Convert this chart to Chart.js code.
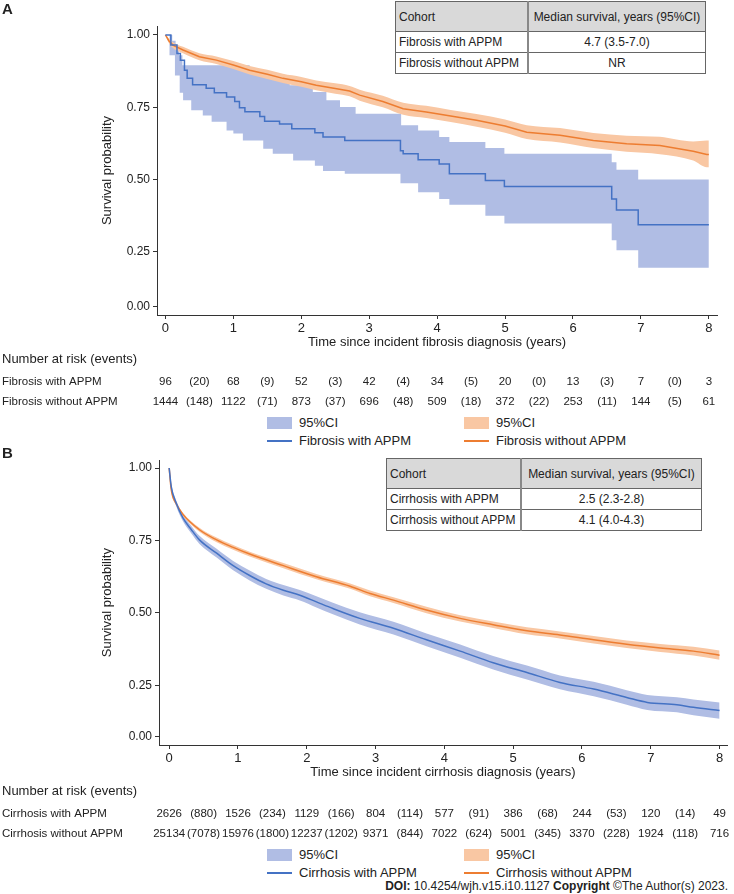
<!DOCTYPE html>
<html>
<head>
<meta charset="utf-8">
<script src="https://cdn.jsdelivr.net/npm/chart.js@4.4.1/dist/chart.umd.min.js"></script>
<style>
  body { margin: 0; width: 734px; height: 894px; position: relative; background: #fff; overflow: hidden;
         font-family: "Liberation Sans", Arial, sans-serif; color: #222; }
  canvas { position: absolute; left: 0; }
  .tag { position: absolute; left: 2px; font-weight: bold; font-size: 15px; }
  table.med { position: absolute; border-collapse: collapse; background: #fff; z-index: 2; font-size: 12px; color: #222; }
  table.med td { border: 1px solid #666; padding: 0 3px; height: 20px; text-align: center; white-space: nowrap; }
  table.med td.l { text-align: left; border-right: 2px solid #888; }
  table.med tr.hd td { background: #d9d9d9; height: 29px; }
  .key { position: absolute; font-size: 13px; white-space: nowrap; line-height: 16px; }
  .sw { position: absolute; width: 25px; }
  .doi { position: absolute; right: 6px; top: 879px; font-size: 12px; white-space: nowrap; }
</style>
</head>
<body>

<canvas id="chartA" width="734" height="412" style="top:0"></canvas>
<canvas id="chartB" width="734" height="392" style="top:450px"></canvas>

<div class="tag" style="top:0">A</div>
<div class="tag" style="top:444px">B</div>

<table class="med" style="left:395px;top:1px;width:311px">
  <tr class="hd"><td class="l" style="width:125px">Cohort</td><td>Median survival, years (95%CI)</td></tr>
  <tr><td class="l">Fibrosis with APPM</td><td>4.7 (3.5-7.0)</td></tr>
  <tr><td class="l">Fibrosis without APPM</td><td>NR</td></tr>
</table>

<table class="med" style="left:386px;top:458px;width:316px">
  <tr class="hd"><td class="l" style="width:127px">Cohort</td><td>Median survival, years (95%CI)</td></tr>
  <tr><td class="l">Cirrhosis with APPM</td><td>2.5 (2.3-2.8)</td></tr>
  <tr><td class="l">Cirrhosis without APPM</td><td>4.1 (4.0-4.3)</td></tr>
</table>

<!-- legend A -->
<div class="sw" style="left:267px;top:417px;height:12px;background:#b0bde4"></div>
<div class="key" style="left:299px;top:415px">95%CI</div>
<div class="sw" style="left:464px;top:417px;height:12px;background:#f9c7a3"></div>
<div class="key" style="left:496px;top:415px">95%CI</div>
<div class="sw" style="left:267px;top:440px;height:2px;background:#4472c4"></div>
<div class="key" style="left:299px;top:433px">Fibrosis with APPM</div>
<div class="sw" style="left:464px;top:440px;height:2px;background:#ed7d31"></div>
<div class="key" style="left:496px;top:433px">Fibrosis without APPM</div>

<!-- legend B -->
<div class="sw" style="left:267px;top:849px;height:12px;background:#b0bde4"></div>
<div class="key" style="left:299px;top:847px">95%CI</div>
<div class="sw" style="left:464px;top:849px;height:12px;background:#f9c7a3"></div>
<div class="key" style="left:496px;top:847px">95%CI</div>
<div class="sw" style="left:267px;top:872px;height:2px;background:#4472c4"></div>
<div class="key" style="left:299px;top:865px">Cirrhosis with APPM</div>
<div class="sw" style="left:464px;top:872px;height:2px;background:#ed7d31"></div>
<div class="key" style="left:496px;top:865px">Cirrhosis without APPM</div>

<div class="doi"><b>DOI:</b> 10.4254/wjh.v15.i10.1127 <b>Copyright</b> ©The Author(s) 2023.</div>

<script>
const years = [0, 1, 2, 3, 4, 5, 6, 7, 8];
const yTickLabels = ['0.00', '0.25', '0.50', '0.75', '1.00'];

// A: fibrosis with APPM (step curve + CI edges)
const fibApTime = [0, 0.08, 0.17, 0.22, 0.28, 0.32, 0.4, 0.6, 0.72, 0.9, 1.02, 1.09, 1.17, 1.39, 1.46, 1.68, 1.86, 2.2, 2.32, 2.64, 3.46, 3.5, 3.72, 4.03, 4.18, 4.71, 4.99, 6.57, 6.64, 6.96, 8.0];
const fibApSurv = [1, 0.965, 0.936, 0.913, 0.878, 0.85, 0.828, 0.816, 0.8, 0.786, 0.77, 0.748, 0.735, 0.718, 0.702, 0.692, 0.676, 0.662, 0.647, 0.635, 0.6, 0.589, 0.569, 0.554, 0.52, 0.497, 0.476, 0.433, 0.395, 0.344, 0.344];
const fibApUpTime = [0, 0.1, 0.15, 0.2, 0.25, 1.24, 1.49, 1.83, 2.17, 2.37, 2.57, 2.8, 3.47, 3.72, 4.03, 4.18, 4.71, 4.99, 6.57, 6.64, 6.96, 8.0];
const fibApUp = [1, 0.98, 0.955, 0.93, 0.895, 0.873, 0.85, 0.826, 0.803, 0.774, 0.751, 0.728, 0.688, 0.67, 0.647, 0.63, 0.609, 0.589, 0.56, 0.534, 0.5, 0.5];
const fibApLoTime = [0, 0.06, 0.14, 0.21, 0.26, 0.38, 0.55, 0.68, 0.9, 1.0, 1.14, 1.44, 1.58, 1.88, 2.2, 2.32, 2.64, 3.46, 3.72, 4.03, 4.18, 4.71, 4.99, 6.57, 6.64, 6.96, 8.0];
const fibApLo = [1, 0.93, 0.86, 0.8, 0.774, 0.74, 0.722, 0.7, 0.67, 0.659, 0.635, 0.607, 0.589, 0.566, 0.548, 0.53, 0.52, 0.487, 0.456, 0.433, 0.413, 0.375, 0.348, 0.29, 0.256, 0.195, 0.195];

// A: fibrosis without APPM (many small steps, drawn as a fine line)
const fibNoTime = [0, 0.05, 0.11, 0.26, 0.5, 0.75, 1.0, 1.24, 1.5, 1.73, 2.0, 2.22, 2.5, 2.71, 2.86, 3.2, 3.5, 3.84, 4.2, 4.58, 5.0, 5.32, 5.81, 6.3, 6.79, 7.28, 7.77, 7.97, 8.0];
const fibNoSurv = [1, 0.98, 0.965, 0.948, 0.925, 0.913, 0.896, 0.878, 0.864, 0.85, 0.838, 0.826, 0.815, 0.806, 0.792, 0.77, 0.745, 0.734, 0.72, 0.705, 0.685, 0.664, 0.653, 0.635, 0.624, 0.618, 0.598, 0.587, 0.587];
const fibNoUp = [1, 0.988, 0.975, 0.959, 0.937, 0.926, 0.91, 0.893, 0.88, 0.866, 0.855, 0.843, 0.833, 0.824, 0.811, 0.79, 0.766, 0.755, 0.741, 0.727, 0.708, 0.688, 0.678, 0.661, 0.652, 0.648, 0.632, 0.635, 0.635];
const fibNoLo = [1, 0.972, 0.955, 0.937, 0.913, 0.9, 0.882, 0.863, 0.848, 0.834, 0.821, 0.809, 0.797, 0.788, 0.773, 0.75, 0.724, 0.713, 0.699, 0.683, 0.662, 0.64, 0.628, 0.609, 0.596, 0.588, 0.566, 0.543, 0.543];

// B: cirrhosis with APPM
const cirApTime = [0, 0.03, 0.1, 0.2, 0.32, 0.44, 0.69, 0.93, 1.17, 1.41, 1.66, 1.9, 2.14, 2.38, 2.77, 3.26, 3.74, 4.23, 4.71, 5.2, 5.68, 6.17, 6.65, 6.95, 7.38, 7.62, 8.0];
const cirApSurv = [1, 0.936, 0.88, 0.828, 0.788, 0.752, 0.706, 0.663, 0.629, 0.6, 0.578, 0.561, 0.538, 0.515, 0.481, 0.447, 0.407, 0.368, 0.328, 0.294, 0.26, 0.237, 0.208, 0.191, 0.183, 0.174, 0.163];
const cirApUp = [1, 0.944, 0.89, 0.84, 0.801, 0.766, 0.721, 0.679, 0.646, 0.617, 0.596, 0.579, 0.557, 0.535, 0.502, 0.469, 0.429, 0.391, 0.351, 0.318, 0.284, 0.262, 0.233, 0.217, 0.209, 0.201, 0.191];
const cirApLo = [1, 0.928, 0.87, 0.816, 0.775, 0.738, 0.691, 0.647, 0.612, 0.583, 0.56, 0.543, 0.519, 0.495, 0.46, 0.425, 0.385, 0.345, 0.305, 0.27, 0.236, 0.212, 0.183, 0.165, 0.157, 0.147, 0.135];

// B: cirrhosis without APPM
const cirNoTime = [0, 0.03, 0.1, 0.2, 0.44, 0.69, 0.93, 1.17, 1.66, 2.14, 2.63, 2.92, 3.26, 3.74, 4.23, 4.71, 5.2, 5.68, 6.17, 6.65, 7.14, 7.62, 8.0];
const cirNoSurv = [1, 0.925, 0.878, 0.84, 0.787, 0.752, 0.726, 0.703, 0.663, 0.625, 0.592, 0.567, 0.544, 0.51, 0.481, 0.459, 0.438, 0.424, 0.407, 0.392, 0.379, 0.368, 0.354];
const cirNoUp = [1, 0.93, 0.884, 0.846, 0.794, 0.76, 0.734, 0.711, 0.672, 0.634, 0.601, 0.577, 0.554, 0.521, 0.492, 0.47, 0.45, 0.436, 0.42, 0.405, 0.393, 0.383, 0.37];
const cirNoLo = [1, 0.92, 0.872, 0.834, 0.78, 0.744, 0.718, 0.695, 0.654, 0.616, 0.583, 0.557, 0.534, 0.499, 0.47, 0.448, 0.426, 0.412, 0.394, 0.379, 0.365, 0.353, 0.338];

// number at risk (at each year) and events (between years)
const fibApRisk = [96, 68, 52, 42, 34, 20, 13, 7, 3];
const fibApEvents = [20, 9, 3, 4, 5, 0, 3, 0];
const fibNoRisk = [1444, 1122, 873, 696, 509, 372, 253, 144, 61];
const fibNoEvents = [148, 71, 37, 48, 18, 22, 11, 5];
const cirApRisk = [2626, 1526, 1129, 804, 577, 386, 244, 120, 49];
const cirApEvents = [880, 234, 166, 114, 91, 68, 53, 14];
const cirNoRisk = [25134, 15976, 12237, 9371, 7022, 5001, 3370, 1924, 716];
const cirNoEvents = [7078, 1800, 1202, 844, 624, 345, 228, 118];

const FONT = '"Liberation Sans", Arial, sans-serif';
const BLUE = '#4472c4', ORANGE = '#ed7d31';
const BLUE_CI = '#b0bde4', ORANGE_CI = '#f9c7a3';

Chart.defaults.font.family = FONT;
Chart.defaults.color = '#222';

function pts(t, v) {
  return t.map((x, i) => ({ x: x, y: v[i] }));
}

// draws the number-at-risk table under the x axis, placed with the x scale
const atRiskPlugin = {
  id: 'atRisk',
  afterDraw(chart, args, opts) {
    const ctx = chart.ctx;
    const xs = chart.scales.x;
    ctx.save();
    ctx.fillStyle = '#222';
    ctx.textBaseline = 'middle';
    ctx.textAlign = 'left';
    ctx.font = '13px ' + FONT;
    ctx.fillText('Number at risk (events)', 2, opts.titleY);
    ctx.font = '11.5px ' + FONT;
    opts.rows.forEach(function(row) {
      ctx.textAlign = 'left';
      ctx.fillText(row.label, 2, row.y);
      ctx.textAlign = 'center';
      row.risk.forEach(function(n, i) {
        ctx.fillText(String(n), xs.getPixelForValue(years[i]), row.y);
      });
      row.events.forEach(function(n, i) {
        ctx.fillText('(' + n + ')', xs.getPixelForValue(years[i] + 0.5), row.y);
      });
    });
    ctx.restore();
  }
};

function kmOptions(p) {
  return {
    responsive: false,
    animation: false,
    layout: { padding: { left: 96, right: p.padRight, top: p.padTop, bottom: 62 } },
    elements: { point: { radius: 0 } },
    plugins: {
      legend: { display: false },
      tooltip: { enabled: false },
      atRisk: { titleY: p.riskY[0], rows: p.rows }
    },
    scales: {
      x: {
        type: 'linear',
        min: p.xMin, max: p.xMax,
        afterFit: function(s) { s.height = 35; },
        afterBuildTicks: function(s) { s.ticks = years.map(v => ({ value: v })); },
        grid: { display: true, drawOnChartArea: false, drawTicks: true, tickLength: 4, color: '#333' },
        border: { display: true, color: '#333', width: 1 },
        ticks: { font: { size: 13 }, padding: 2, maxRotation: 0, autoSkip: false, color: '#222' },
        title: { display: true, text: p.xTitle, font: { size: 13 }, padding: { top: 0, bottom: 0 }, color: '#222' }
      },
      y: {
        min: p.yMin, max: p.yMax,
        afterFit: function(s) { s.width = p.yWidth; },
        afterBuildTicks: function(s) { s.ticks = p.yTicks.map(v => ({ value: v })); },
        grid: { display: true, drawOnChartArea: false, drawTicks: true, tickLength: 4, color: '#333' },
        border: { display: true, color: '#333', width: 1 },
        ticks: { font: { size: 12 }, padding: 3, color: '#222',
                 callback: function(v, i) { return yTickLabels[i]; } },
        title: { display: true, text: 'Survival probability', font: { size: 13 }, padding: { top: 4, bottom: 4 }, color: '#222' }
      }
    }
  };
}

function bandSets(upT, up, loT, lo, color, stepped, order) {
  return [
    { data: pts(upT, up), borderWidth: 0, borderColor: 'rgba(0,0,0,0)', backgroundColor: color,
      fill: '+1', stepped: stepped, cubicInterpolationMode: 'monotone', order: order },
    { data: pts(loT, lo), borderWidth: 0, borderColor: 'rgba(0,0,0,0)', backgroundColor: color,
      fill: false, stepped: stepped, cubicInterpolationMode: 'monotone', order: order }
  ];
}

// Panel A
new Chart(document.getElementById('chartA'), {
  type: 'line',
  data: {
    datasets: [].concat(
      bandSets(fibApUpTime, fibApUp, fibApLoTime, fibApLo, BLUE_CI, true, 4),
      bandSets(fibNoTime, fibNoUp, fibNoTime, fibNoLo, ORANGE_CI, false, 3),
      [
        { data: pts(fibApTime, fibApSurv), borderColor: BLUE, borderWidth: 1.5, fill: false, stepped: true, order: 1 },
        { data: pts(fibNoTime, fibNoSurv), borderColor: ORANGE, borderWidth: 1.5, fill: false, order: 2 }
      ]
    )
  },
  options: kmOptions({
    padTop: 26, padRight: 17, xMin: -0.124, xMax: 8.12,
    yMin: 0.032, yMax: 1.031, yWidth: 61, yTicks: [0.062, 0.25, 0.5, 0.75, 1.0],
    xTitle: 'Time since incident fibrosis diagnosis (years)',
    riskY: [359],
    rows: [
      { label: 'Fibrosis with APPM', y: 382, risk: fibApRisk, events: fibApEvents },
      { label: 'Fibrosis without APPM', y: 402, risk: fibNoRisk, events: fibNoEvents }
    ]
  }),
  plugins: [atRiskPlugin]
});

// Panel B
new Chart(document.getElementById('chartB'), {
  type: 'line',
  data: {
    datasets: [].concat(
      bandSets(cirApTime, cirApUp, cirApTime, cirApLo, BLUE_CI, false, 4),
      bandSets(cirNoTime, cirNoUp, cirNoTime, cirNoLo, ORANGE_CI, false, 3),
      [
        { data: pts(cirApTime, cirApSurv), borderColor: BLUE, borderWidth: 1.5, fill: false, cubicInterpolationMode: 'monotone', order: 1 },
        { data: pts(cirNoTime, cirNoSurv), borderColor: ORANGE, borderWidth: 1.5, fill: false, cubicInterpolationMode: 'monotone', order: 2 }
      ]
    )
  },
  options: kmOptions({
    padTop: 7, padRight: 7, xMin: -0.148, xMax: 8.108,
    yMin: 0.044, yMax: 1.027, yWidth: 63, yTicks: [0.073, 0.25, 0.5, 0.75, 1.0],
    xTitle: 'Time since incident cirrhosis diagnosis (years)',
    riskY: [341],
    rows: [
      { label: 'Cirrhosis with APPM', y: 364, risk: cirApRisk, events: cirApEvents },
      { label: 'Cirrhosis without APPM', y: 384, risk: cirNoRisk, events: cirNoEvents }
    ]
  }),
  plugins: [atRiskPlugin]
});
</script>
</body>
</html>
